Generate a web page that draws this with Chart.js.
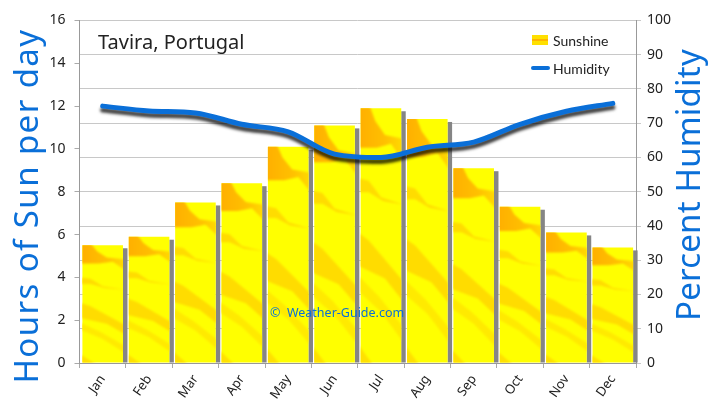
<!DOCTYPE html>
<html>
<head>
<meta charset="utf-8">
<script src="https://cdn.jsdelivr.net/npm/chart.js@4/dist/chart.umd.min.js"></script>
<style>
  html, body { margin: 0; padding: 0; background: #fff; }
  canvas { display: block; }
</style>
</head>
<body>
<canvas id="climateChart" width="720" height="418"></canvas>
<script>
const months = ['Jan', 'Feb', 'Mar', 'Apr', 'May', 'Jun', 'Jul', 'Aug', 'Sep', 'Oct', 'Nov', 'Dec'];
const sunshine = [5.5, 5.9, 7.5, 8.4, 10.1, 11.1, 11.9, 11.4, 9.1, 7.3, 6.1, 5.4];
const humidity = [75, 73.6, 73, 69.7, 67.5, 61, 60, 63, 64.5, 69.7, 73.5, 75.8];

const placeName = 'Tavira, Portugal';
const copyright = '©  Weather-Guide.com';
const sunTitle = 'Hours of Sun per day';
const humTitle = 'Percent Humidity';
const handFont = '"Noto Sans", sans-serif';
const blue = '#0a6fd8';
const ink = '#222';

function streak(ctx, b, pts, color) {
    // pts are fractions of the bar's own box, the texture stretches with the bar
    ctx.fillStyle = color;
    ctx.beginPath();
    pts.forEach(function (p, i) {
        const x = b.left + p[0] * b.w;
        const y = b.top + p[1] * b.h;
        if (i === 0) ctx.moveTo(x, y); else ctx.lineTo(x, y);
    });
    ctx.closePath();
    ctx.fill();
}

// grey drop shadow to the right of the bars, and the orange streaks on them
const barLook = {
    id: 'barLook',
    beforeDatasetDraw(chart, args) {
        if (args.index !== 0) return;
        const ctx = chart.ctx;
        ctx.save();
        args.meta.data.forEach(function (bar) {
            ctx.fillStyle = '#858585';
            ctx.fillRect(bar.x + bar.width / 2, bar.y + 3, 4.5, bar.base - bar.y - 3);
        });
        ctx.restore();
    },
    afterDatasetDraw(chart, args) {
        if (args.index !== 0) return;
        const ctx = chart.ctx;
        args.meta.data.forEach(function (bar) {
            const b = { left: bar.x - bar.width / 2, top: bar.y, w: bar.width, h: bar.base - bar.y };
            ctx.save();
            ctx.beginPath();
            ctx.rect(b.left, b.top, b.w, b.h);
            ctx.clip();
            ctx.filter = 'blur(0.8px)';
            const top = ctx.createLinearGradient(b.left, b.top, b.left + b.w, b.top);
            top.addColorStop(0, '#ffb000');
            top.addColorStop(0.6, '#ffc000');
            top.addColorStop(1, '#ffd800');
            streak(ctx, b, [[-0.05, -0.02], [0.2, -0.02], [0.36, 0.05], [0.6, 0.105], [1.05, 0.12], [1.05, 0.21], [0.75, 0.14], [0.4, 0.155], [-0.05, 0.155]], top);
            streak(ctx, b, [[-0.05, 0.275], [0.2, 0.285], [0.5, 0.35], [1.05, 0.38], [0.55, 0.365], [0.2, 0.33], [-0.05, 0.33]], '#ffdc00');
            streak(ctx, b, [[-0.05, 0.49], [0.2, 0.52], [1.05, 0.68], [1.05, 0.76], [0.6, 0.67], [-0.05, 0.62]], '#ffdc00');
            streak(ctx, b, [[-0.05, 0.66], [0.45, 0.74], [1.05, 0.86], [1.05, 0.92], [0.5, 0.8], [-0.05, 0.72]], '#ffea00');
            streak(ctx, b, [[-0.05, 0.93], [0.35, 1.02], [-0.05, 1.02]], '#ffe000');
            ctx.restore();
        });
    }
};

// dark soft shadow under the humidity curve
const lineShadow = {
    id: 'lineShadow',
    beforeDatasetDraw(chart, args) {
        if (args.index !== 1) return;
        const ctx = chart.ctx;
        ctx.save();
        ctx.shadowColor = 'rgba(0,0,0,0.75)';
        ctx.shadowBlur = 3;
        ctx.shadowOffsetX = 0;
        ctx.shadowOffsetY = 4;
    },
    afterDatasetDraw(chart, args) {
        if (args.index !== 1) return;
        chart.ctx.restore();
    }
};

function sideTitle(ctx, text, x, y, spacing) {
    ctx.save();
    ctx.translate(x, y);
    ctx.rotate(-Math.PI / 2);
    ctx.letterSpacing = spacing;
    ctx.textAlign = 'center';
    ctx.textBaseline = 'alphabetic';
    ctx.fillStyle = blue;
    ctx.font = '33px ' + handFont;
    ctx.fillText(text, 0, 0);
    ctx.restore();
}

// axis titles both read upwards, so they are not the scale's own titles
const overlayText = {
    id: 'overlayText',
    afterDraw(chart) {
        const ctx = chart.ctx;
        sideTitle(ctx, sunTitle, 38, 206, '1.4px');
        sideTitle(ctx, humTitle, 700, 185, '0.2px');

        ctx.save();
        ctx.textBaseline = 'middle';
        ctx.fillStyle = ink;
        ctx.font = '20px ' + handFont;
        ctx.fillText(placeName, 98, 43);

        ctx.font = '14px Lato, sans-serif';
        ctx.fillText(chart.data.datasets[0].label, 553, 41);
        ctx.fillText(chart.data.datasets[1].label, 553, 69);

        ctx.fillStyle = '#ffe000';
        ctx.fillRect(532, 35, 16, 10);
        ctx.fillStyle = '#ffb400';
        ctx.fillRect(532, 39, 16, 2);

        ctx.strokeStyle = blue;
        ctx.lineWidth = 4;
        ctx.lineCap = 'round';
        ctx.beginPath();
        ctx.moveTo(533, 68);
        ctx.lineTo(548, 68);
        ctx.stroke();

        ctx.fillStyle = blue;
        ctx.font = '12.5px ' + handFont;
        ctx.fillText(copyright, 270, 313);
        ctx.restore();
    }
};

new Chart(document.getElementById('climateChart'), {
    type: 'bar',
    data: {
        labels: months,
        datasets: [
            {
                label: 'Sunshine',
                data: sunshine,
                yAxisID: 'ySun',
                backgroundColor: '#ffff00',
                barPercentage: 1,
                categoryPercentage: 0.875,
                order: 2
            },
            {
                type: 'line',
                label: 'Humidity',
                data: humidity,
                yAxisID: 'yHum',
                borderColor: blue,
                borderWidth: 5,
                borderCapStyle: 'round',
                pointRadius: 0,
                cubicInterpolationMode: 'monotone',
                order: 1
            }
        ]
    },
    plugins: [barLook, lineShadow, overlayText],
    options: {
        responsive: false,
        animation: false,
        layout: { padding: { top: 20.5, bottom: 0, left: 0, right: 0 } },
        plugins: { legend: { display: false }, tooltip: { enabled: false } },
        scales: {
            x: {
                offset: true,
                afterFit(scale) { scale.height = 55; },
                grid: { display: true, drawOnChartArea: false, color: '#aaa', tickLength: 5 },
                border: { color: '#999' },
                ticks: { color: ink, font: { family: handFont, size: 13 }, maxRotation: 55, minRotation: 55, padding: 4 }
            },
            ySun: {
                position: 'left',
                min: 0,
                max: 16,
                afterFit(scale) { scale.width = 79.5; },
                grid: { drawOnChartArea: false, color: '#aaa', tickLength: 5 },
                border: { color: '#999' },
                ticks: { stepSize: 2, color: ink, font: { family: handFont, size: 14 }, padding: 9 }
            },
            yHum: {
                position: 'right',
                min: 0,
                max: 100,
                afterFit(scale) { scale.width = 84; },
                grid: { color: '#c8c8c8', tickLength: 5 },
                border: { color: '#999' },
                ticks: { stepSize: 10, color: ink, font: { family: handFont, size: 14 }, padding: 6 }
            }
        }
    }
});
</script>
</body>
</html>
